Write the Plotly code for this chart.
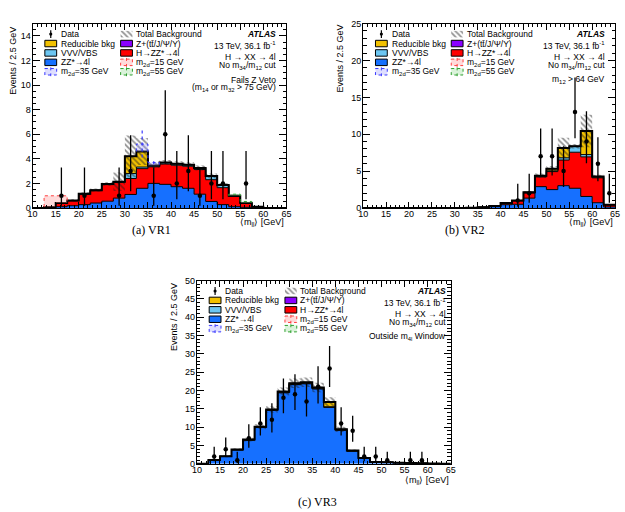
import plotly.graph_objects as go

W, H = 625, 512
FONT = "Liberation Sans, Arial, Helvetica, sans-serif"
SERIF = "Liberation Serif, Times New Roman, serif"

# ---------------- data ----------------
BIN_EDGES = [10.0, 12.5, 15.0, 17.5, 20.0, 22.5, 25.0, 27.5, 30.0, 32.5, 35.0, 37.5,
             40.0, 42.5, 45.0, 47.5, 50.0, 52.5, 55.0, 57.5, 60.0, 62.5, 65.0]
BIN_CENTERS = [11.25, 13.75, 16.25, 18.75, 21.25, 23.75, 26.25, 28.75, 31.25, 33.75, 36.25,
               38.75, 41.25, 43.75, 46.25, 48.75, 51.25, 53.75, 56.25, 58.75, 61.25, 63.75]
X_TICKS = [10, 15, 20, 25, 30, 35, 40, 45, 50, 55, 60, 65]

# VR1
VR1_ZZ = [0, 0.02, 0.10, 0.18, 0.27, 0.40, 0.55, 0.80, 1.10, 1.60, 2.00, 1.92, 1.73, 1.60, 1.12, 0.53, 0.27, 0.10, 0.05, 0.02, 0, 0]
VR1_HZZ = [0, 0.06, 0.30, 0.41, 0.85, 1.01, 1.35, 1.27, 1.30, 1.60, 1.35, 1.66, 1.75, 1.80, 2.01, 1.77, 1.38, 0.84, 0.33, 0.08, 0, 0]
VR1_VVV = [0, 0, 0, 0.01, 0.03, 0.04, 0.05, 0.06, 0.40, 0.13, 0.10, 0.12, 0.12, 0.12, 0.12, 0.30, 0.22, 0.05, 0.02, 0, 0, 0]
VR1_RED = [0, 0, 0, 0, 0, 0, 0, 0, 1.40, 1.27, 0, 0, 0, 0, 0, 0, 0, 0, 0, 0, 0, 0]
VR1_UNC = [0, 0.04, 0.08, 0.10, 0.12, 0.13, 0.15, 0.75, 1.70, 1.10, 0.20, 0.20, 0.20, 0.20, 0.20, 0.20, 0.15, 0.10, 0.08, 0.03, 0, 0]
VR1_DATA = [0, 0, 1, 0, 1, 0, 0, 1, 3, 0, 1, 6, 2, 3, 1, 2, 2, 0, 2, 0, 0, 0]
VR1_SIG15 = [0, 0.91, 0.59, 0, 0, 0, 0, 0, 0, 0, 0, 0, 0, 0, 0, 0, 0, 0, 0, 0, 0, 0]
VR1_SIG35 = [0, 0, 0, 0, 0, 0, 0, 0, 0, 0.60, 0.25, 0, 0, 0, 0, 0, 0, 0, 0, 0, 0, 0]
VR1_SIG35_ERR = [0, 0, 0, 0, 0, 0, 0, 0, 0, 1.10, 0.15, 0, 0, 0, 0, 0, 0, 0, 0, 0, 0, 0]
VR1_SIG55 = [0, 0, 0, 0, 0, 0, 0, 0, 0, 0, 0, 0, 0, 0, 0, 0, 0, 0.13, 0.13, 0, 0, 0]
NO_ERR = [0] * 22

# VR2
VR2_ZZ = [0, 0, 0, 0, 0, 0, 0, 0, 0, 0.03, 0.08, 0.18, 0.44, 0.50, 1.33, 2.89, 2.49, 3.02, 2.67, 1.56, 0.71, 0.13]
VR2_HZZ = [0, 0, 0, 0, 0, 0, 0, 0, 0, 0, 0.02, 0.09, 0.21, 0.47, 0.70, 1.32, 2.44, 3.48, 4.89, 5.37, 3.38, 0.30]
VR2_VVV = [0, 0, 0, 0, 0, 0, 0, 0, 0, 0, 0, 0, 0.02, 0.03, 0.05, 0.10, 0.10, 0.30, 0.80, 0.31, 0.08, 0.02]
VR2_RED = [0, 0, 0, 0, 0, 0, 0, 0, 0, 0, 0, 0, 0, 0, 0.05, 0.05, 0.30, 1.33, 0, 3.20, 0.10, 0]
VR2_UNC = [0, 0, 0, 0, 0, 0, 0, 0, 0, 0.01, 0.02, 0.04, 0.08, 0.10, 0.15, 0.30, 0.35, 1.40, 0.30, 2.20, 0.25, 0.05]
VR2_DATA = [0, 0, 0, 0, 0, 0, 0, 0, 0, 0, 0, 0, 0, 1, 2, 7, 7, 5, 13, 9, 6, 2]

# VR3
VR3_ZZ = [0, 1.00, 2.00, 3.80, 6.45, 9.90, 14.55, 19.40, 21.60, 21.85, 20.45, 15.40, 9.15, 3.45, 1.50, 0.45, 0.40, 0.27, 0.18, 0.13, 0.09, 0]
VR3_HZZ = [0, 0.01, 0.01, 0.02, 0.02, 0.03, 0.03, 0.03, 0.03, 0.03, 0.03, 0.03, 0.02, 0.02, 0.02, 0.01, 0.01, 0, 0, 0, 0, 0]
VR3_VVV = [0, 0.03, 0.03, 0.05, 0.08, 0.10, 0.12, 0.15, 0.20, 0.20, 0.20, 0.15, 0.12, 0.08, 0.05, 0.03, 0.03, 0.02, 0.01, 0.01, 0.01, 0]
VR3_RED = [0, 0.04, 0.03, 0.05, 0.07, 0.10, 0.13, 0.15, 0.15, 0.15, 0.15, 1.30, 0.13, 0.07, 0.05, 0.02, 0.02, 0.01, 0.01, 0.01, 0, 0]
VR3_UNC = [0, 0.15, 0.25, 0.35, 0.50, 0.70, 0.90, 1.10, 1.30, 1.30, 1.30, 1.30, 0.70, 0.30, 0.15, 0.06, 0.05, 0.04, 0.03, 0.02, 0.02, 0]
VR3_DATA = [0, 2, 4, 1, 7, 11, 12, 18, 19, 17, 21, 26, 11, 9, 2, 2, 1, 0, 1, 1, 0, 0]

# 68% Poisson (Garwood) intervals for observed counts
POISSON_INTERVAL = {1: (0.173, 3.300), 2: (0.708, 4.638), 3: (1.367, 5.918), 4: (2.086, 7.163),
                    5: (2.840, 8.382), 6: (3.620, 9.584), 7: (4.419, 10.77), 9: (6.057, 13.11),
                    11: (7.735, 15.42), 12: (8.585, 16.56), 13: (9.441, 17.70), 17: (12.91, 22.18),
                    18: (13.79, 23.29), 19: (14.67, 24.41), 21: (16.45, 26.62), 26: (20.93, 32.11)}

# ---------------- styles ----------------
C_ZZ = "#1670ff"
C_HZZ = "#ff0000"
C_VVV = "#6cc6f2"
C_RED = "#f2c100"
C_ZQQ = "#8a00ff"
HATCH = dict(shape="\\", fgcolor="#202020", bgcolor="rgba(0,0,0,0)", size=4, solidity=0.45)
SIG_STYLES = {
    "15": ("#ff4040", "rgba(255,150,150,0.35)"),
    "35": ("#3a3aff", "rgba(160,160,255,0.35)"),
    "55": ("#30a030", "rgba(150,220,150,0.35)"),
}
TXT = 8.5

PANELS = [
    dict(n=1, box=(28, 19, 286, 207), ymax=15, ydtick=2, yminor=0.5,
         comps=[(VR1_ZZ, C_ZZ), (VR1_HZZ, C_HZZ), (VR1_VVV, C_VVV), (VR1_RED, C_RED)],
         unc=VR1_UNC, data=VR1_DATA,
         signals=[(VR1_SIG15, NO_ERR, "15"), (VR1_SIG35, VR1_SIG35_ERR, "35"), (VR1_SIG55, NO_ERR, "55")],
         ytitle_x=8, ytitle_y=57, xtitle_y=222, right_x=277,
         extra=["Fails Z Veto", "(m<sub>14</sub> or m<sub>32</sub> > 75 GeV)"],
         caption=("(a) VR1", 149, 229)),
    dict(n=2, box=(364, 19, 620, 207), ymax=25, ydtick=5, yminor=1,
         comps=[(VR2_ZZ, C_ZZ), (VR2_HZZ, C_HZZ), (VR2_VVV, C_VVV), (VR2_RED, C_RED)],
         unc=VR2_UNC, data=VR2_DATA, signals=[],
         ytitle_x=340, ytitle_y=55, xtitle_y=222, right_x=612,
         extra=["m<sub>12</sub> > 64 GeV"],
         caption=("(b) VR2", 467, 229)),
    dict(n=3, box=(195, 281, 453, 468), ymax=50, ydtick=5, yminor=1,
         comps=[(VR3_ZZ, C_ZZ), (VR3_HZZ, C_HZZ), (VR3_VVV, C_VVV), (VR3_RED, C_RED)],
         unc=VR3_UNC, data=VR3_DATA, signals=[],
         ytitle_x=172, ytitle_y=318, xtitle_y=485, right_x=450,
         extra=["Outside m<sub>4l</sub> Window"],
         caption=("(c) VR3", 318, 507)),
]

fig = go.Figure()
shapes = []
annotations = []


def steps(vals):
    return BIN_EDGES, list(vals) + [vals[-1]]


def ann(x, y, text, size=TXT, xanchor="left", yanchor="middle", family=FONT, angle=0):
    annotations.append(dict(x=x, y=y, xref="x4", yref="y4", text=text, showarrow=False,
                            xanchor=xanchor, yanchor=yanchor, textangle=angle,
                            font=dict(family=family, size=size, color="black")))


for P in PANELS:
    n = P["n"]
    xa = "x" if n == 1 else f"x{n}"
    ya = "y" if n == 1 else f"y{n}"
    cum = [0.0] * 22
    first = True
    for vals, color in P["comps"]:
        cum = [c + v for c, v in zip(cum, vals)]
        xs, ys = steps(cum)
        fig.add_trace(go.Scatter(x=xs, y=ys, mode="lines", line=dict(color="black", width=1, shape="hv"),
                                 fill="tozeroy" if first else "tonexty", fillcolor=color,
                                 xaxis=xa, yaxis=ya, showlegend=False, hoverinfo="skip"))
        first = False
    total = cum
    # uncertainty band
    lo = [max(t - u, 0) for t, u in zip(total, P["unc"])]
    hi = [t + u for t, u in zip(total, P["unc"])]
    xs, ys = steps(lo)
    fig.add_trace(go.Scatter(x=xs, y=ys, mode="lines", line=dict(width=0, shape="hv"),
                             xaxis=xa, yaxis=ya, showlegend=False, hoverinfo="skip"))
    xs, ys = steps(hi)
    fig.add_trace(go.Scatter(x=xs, y=ys, mode="lines", line=dict(width=0, shape="hv"),
                             fill="tonexty", fillcolor="rgba(0,0,0,0)", fillpattern=HATCH,
                             xaxis=xa, yaxis=ya, showlegend=False, hoverinfo="skip"))
    # total outline
    xs, ys = steps(total)
    fig.add_trace(go.Scatter(x=xs, y=ys, mode="lines", line=dict(color="black", width=2, shape="hv"),
                             xaxis=xa, yaxis=ya, showlegend=False, hoverinfo="skip"))
    # signals stacked on background
    for sig, err, key in P["signals"]:
        idx = [i for i, s in enumerate(sig) if s > 0]
        if not idx:
            continue
        i0, i1 = idx[0], idx[-1]
        lcol, fcol = SIG_STYLES[key]
        base = total[i0:i1 + 1]
        top = [b + s for b, s in zip(base, sig[i0:i1 + 1])]
        bx = BIN_EDGES[i0:i1 + 2]
        fig.add_trace(go.Scatter(x=bx, y=base + [base[-1]], mode="lines", line=dict(width=0, shape="hv"),
                                 xaxis=xa, yaxis=ya, showlegend=False, hoverinfo="skip"))
        tx = [bx[0]] + bx + [bx[-1]]
        ty = [base[0]] + top + [top[-1], base[-1]]
        fig.add_trace(go.Scatter(x=tx, y=ty, mode="lines",
                                 line=dict(color=lcol, width=1, dash="dot", shape="hv"),
                                 fill="tonexty", fillcolor=fcol,
                                 xaxis=xa, yaxis=ya, showlegend=False, hoverinfo="skip"))
        ex, ey = [], []
        for i in range(i0, i1 + 1):
            if err[i] > 0:
                t = total[i] + sig[i]
                ex += [BIN_CENTERS[i], BIN_CENTERS[i], None]
                ey += [max(t - err[i], 0), t + err[i], None]
        if ex:
            fig.add_trace(go.Scatter(x=ex, y=ey, mode="lines", line=dict(color=lcol, width=1.2, dash="dot"),
                                     xaxis=xa, yaxis=ya, showlegend=False, hoverinfo="skip"))
    # data
    dx, dy, ep, em = [], [], [], []
    for c, k in zip(BIN_CENTERS, P["data"]):
        if k > 0:
            l, h = POISSON_INTERVAL[k]
            dx.append(c); dy.append(k); ep.append(h - k); em.append(k - l)
    fig.add_trace(go.Scatter(x=dx, y=dy, mode="markers",
                             marker=dict(color="black", size=4.5, symbol="circle"),
                             error_y=dict(type="data", symmetric=False, array=ep, arrayminus=em,
                                          color="black", thickness=1.3, width=0),
                             xaxis=xa, yaxis=ya, showlegend=False, hoverinfo="skip"))

    # axes
    L, T, R, B = P["box"]
    common = dict(showline=True, linecolor="black", linewidth=1, mirror="allticks", ticks="inside",
                  tickcolor="black", showgrid=False, zeroline=False,
                  tickfont=dict(family=FONT, size=9, color="black"))
    xk = "xaxis" if n == 1 else f"xaxis{n}"
    yk = "yaxis" if n == 1 else f"yaxis{n}"
    fig.update_layout(**{
        xk: dict(common, domain=[L / W, R / W], range=[10, 65], tickvals=X_TICKS, ticklen=6,
                 ticklabelstandoff=-3,
                 minor=dict(dtick=1, tick0=10, ticklen=3, ticks="inside", tickcolor="black"),
                 anchor=ya),
        yk: dict(common, domain=[1 - B / H, 1 - T / H], range=[0, P["ymax"]], dtick=P["ydtick"], tick0=0,
                 ticklen=7, ticklabelstandoff=-1,
                 minor=dict(dtick=P["yminor"], tick0=0, ticklen=3.5, ticks="inside", tickcolor="black"),
                 anchor=xa),
    })

    # axis titles
    ann(P["ytitle_x"], P["ytitle_y"], "Events / 2.5 GeV", size=9, xanchor="center", angle=-90)
    ann(R, P["xtitle_y"], "⟨m<sub>ll</sub>⟩ [GeV]", size=9, xanchor="right")

    # right-side texts
    rx = P["right_x"]
    ann(rx, T + 10.7, "<b><i>ATLAS</i></b>", xanchor="right")
    ann(rx, T + 22, "13 TeV, 36.1 fb<sup>-1</sup>", xanchor="right")
    ann(rx, T + 34, "H → XX → 4l", xanchor="right")
    ann(rx, T + 42.5, "No m<sub>34</sub>/m<sub>12</sub> cut", xanchor="right")
    for j, e in enumerate(P["extra"]):
        ann(rx, T + 57 + 8.5 * j, e, xanchor="right")

    # legend
    rows = [T + 10.7 + 9.6 * i for i in range(5)]
    c1, c2 = L + 18.5, L + 95.5
    t1, t2 = L + 27, L + 103
    col1 = [("data", None, "Data"), ("box", C_RED, "Reducible bkg"), ("box", C_VVV, "VVV/VBS"),
            ("box", C_ZZ, "ZZ*→4l"), ("sig", "35", "m<sub>2d</sub>=35 GeV")]
    col2 = [("hatch", None, "Total Background"), ("box", C_ZQQ, "Z+(tt̄/J/Ψ/Υ)"),
            ("box", C_HZZ, "H→ZZ*→4l"), ("sig", "15", "m<sub>2d</sub>=15 GeV"),
            ("sig", "55", "m<sub>2d</sub>=55 GeV")]
    for col, cx, tx_ in ((col1, c1, t1), (col2, c2, t2)):
        for (kind, arg, label), yy in zip(col, rows):
            if kind == "box":
                shapes.append(dict(type="rect", xref="x4", yref="y4", x0=cx - 6, x1=cx + 6,
                                   y0=yy - 3.3, y1=yy + 3.3, fillcolor=arg,
                                   line=dict(color="black", width=1), layer="above"))
            elif kind == "data":
                shapes.append(dict(type="line", xref="x4", yref="y4", x0=cx, x1=cx, y0=yy - 4, y1=yy + 4,
                                   line=dict(color="black", width=1.2), layer="above"))
                shapes.append(dict(type="circle", xref="x4", yref="y4", x0=cx - 1.6, x1=cx + 1.6,
                                   y0=yy - 1.6, y1=yy + 1.6, fillcolor="black",
                                   line=dict(color="black", width=0), layer="above"))
            elif kind == "hatch":
                fig.add_trace(go.Scatter(x=[cx - 6, cx + 6, cx + 6, cx - 6, cx - 6],
                                         y=[yy - 3.3, yy - 3.3, yy + 3.3, yy + 3.3, yy - 3.3],
                                         mode="lines", line=dict(width=0), fill="toself",
                                         fillcolor="rgba(0,0,0,0)", fillpattern=HATCH,
                                         xaxis="x4", yaxis="y4", showlegend=False, hoverinfo="skip"))
            elif kind == "sig":
                lcol, fcol = SIG_STYLES[arg]
                shapes.append(dict(type="rect", xref="x4", yref="y4", x0=cx - 6, x1=cx + 6,
                                   y0=yy - 3.3, y1=yy + 3.3, fillcolor=fcol,
                                   line=dict(color=lcol, width=1, dash="dot"), layer="above"))
                shapes.append(dict(type="line", xref="x4", yref="y4", x0=cx, x1=cx, y0=yy - 4.5, y1=yy + 4.5,
                                   line=dict(color=lcol, width=1, dash="dot"), layer="above"))
            ann(tx_, yy, label)

    # caption
    cap, cx_, cy_ = P["caption"]
    ann(cx_, cy_, cap, size=12, xanchor="center", family=SERIF)

fig.update_layout(
    width=W, height=H, margin=dict(l=0, r=0, t=0, b=0),
    paper_bgcolor="white", plot_bgcolor="rgba(0,0,0,0)", showlegend=False,
    xaxis4=dict(domain=[0, 1], range=[0, W], visible=False, anchor="y4", fixedrange=True),
    yaxis4=dict(domain=[0, 1], range=[H, 0], visible=False, anchor="x4", fixedrange=True),
    shapes=shapes, annotations=annotations,
)

fig.write_html("out.html")
